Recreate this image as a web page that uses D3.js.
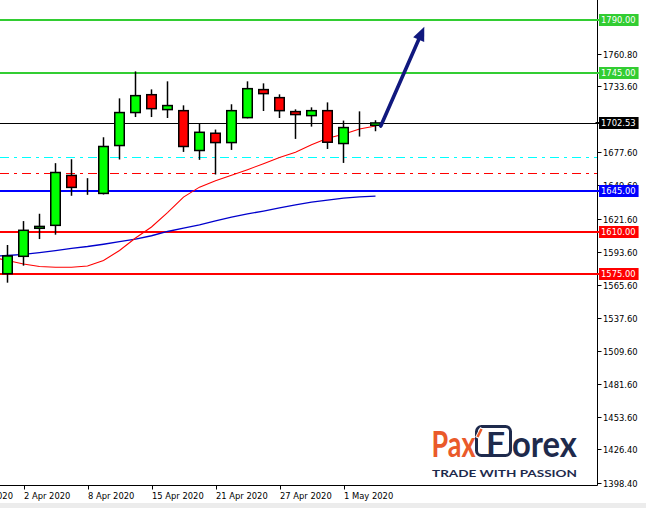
<!DOCTYPE html>
<html><head><meta charset="utf-8">
<script src="https://cdn.jsdelivr.net/npm/d3@7"></script>
<style>
html,body{margin:0;padding:0;background:#fff;overflow:hidden;}
svg{display:block;}
.ax{font-family:"DejaVu Sans Condensed","DejaVu Sans",sans-serif;font-stretch:condensed;font-size:9.3px;}
</style></head><body>
<svg id="c" width="646" height="508"></svg>
<script>
// ---------- data ----------
const dates = ["27 Mar 2020","30 Mar 2020","31 Mar 2020","1 Apr 2020","2 Apr 2020","3 Apr 2020","6 Apr 2020","7 Apr 2020","8 Apr 2020","9 Apr 2020","13 Apr 2020","14 Apr 2020","15 Apr 2020","16 Apr 2020","17 Apr 2020","20 Apr 2020","21 Apr 2020","22 Apr 2020","23 Apr 2020","24 Apr 2020","27 Apr 2020","28 Apr 2020","29 Apr 2020","30 Apr 2020","1 May 2020","4 May 2020","5 May 2020"];
const open  = [null,null,null,1575.0,1589.7,1613.4,1615.9,1658.1,1644.0,1642.9,1683.4,1711.3,1726.4,1713.8,1712.9,1679.2,1693.8,1685.9,1707.0,1730.7,1723.9,1712.1,1708.7,1712.9,1685.1,1699.1,1700.5];
const high  = [null,null,null,1599.3,1619.5,1625.7,1668.5,1671.8,1655.8,1690.4,1723.3,1746.1,1730.9,1737.7,1717.4,1702.2,1696.9,1718.3,1737.7,1736.0,1726.7,1714.0,1715.7,1719.9,1704.5,1712.3,1704.8];
const low   = [null,null,null,1567.4,1581.8,1604.3,1608.0,1640.9,1641.7,1642.0,1671.6,1707.5,1707.5,1706.7,1678.0,1671.3,1658.9,1679.7,1706.4,1712.6,1706.7,1689.0,1699.4,1680.5,1668.7,1691.0,1695.5];
const close = [null,null,null,1590.0,1611.7,1615.0,1660.6,1648.0,1644.0,1682.6,1711.3,1725.6,1714.6,1717.2,1682.6,1694.6,1685.9,1712.9,1731.5,1727.3,1712.9,1709.6,1712.9,1686.2,1698.6,1699.1,1702.5];
const maFast = [null,null,1589.1,1586.2,1583.2,1581.1,1580.4,1580.4,1581.5,1586.2,1594.6,1605.2,1614.5,1626.7,1639.8,1648.2,1653.7,1658.3,1663.0,1668.0,1673.3,1677.8,1684.1,1689.6,1692.9,1697.4,1699.9];
const maSlow = [null,null,1589.6,1590.4,1591.4,1592.9,1594.6,1596.5,1598.0,1599.9,1602.1,1604.3,1607.1,1610.7,1613.6,1616.3,1619.7,1622.9,1625.6,1628.0,1630.7,1633.2,1635.6,1637.2,1638.9,1640.0,1640.6];
const xTickLabels = ["27 Mar 2020","2 Apr 2020","8 Apr 2020","15 Apr 2020","21 Apr 2020","27 Apr 2020","1 May 2020"];
const yTickValues = [1398.40,1426.40,1453.60,1481.60,1509.60,1537.60,1565.60,1593.60,1621.60,1649.60,1677.60,1733.60,1760.80];
const resistanceLevels = [1790.00, 1745.00];
const supportLevels = [1610.00, 1575.00];
const pivotLevel = 1645.00;
const currentPrice = 1702.53;
const cyanLevel = 1673.3;
const redDashLevel = 1659.8;
const arrowFrom = [26.33, 1699.9];
const arrowTo = [29.05, 1783.9];

// ---------- scales ----------
const svg = d3.select("#c");
const plotRight = 597.5, plotBottom = 485.5;
const y = d3.scaleLinear().domain([1398.4, 1790]).range([482.5, 19.5]);
const x = d3.scaleLinear().domain([3, 26]).range([7.5, 375.5]);
const crisp = v => Math.round(v) + 0.5;

svg.append("rect").attr("width",646).attr("height",508).attr("fill","#fff");
svg.append("rect").attr("x",0).attr("y",503).attr("width",646).attr("height",5).attr("fill","#ececec");

const plot = svg.append("g");
// level lines
function hline(v, color, w, dash){
  const yy = w % 2 === 1 ? crisp(y(v)) : Math.round(y(v));
  const l = plot.append("line").attr("x1",0).attr("x2",plotRight).attr("y1",yy).attr("y2",yy)
    .attr("stroke",color).attr("stroke-width",w);
  if (dash) l.attr("stroke-dasharray",dash);
}
hline(cyanLevel, "#00ffff", 1, "9,5,3,5");
hline(redDashLevel, "#ff0000", 1, "9,5,3,5");
resistanceLevels.forEach(v => hline(v, "#32cd32", 2));
supportLevels.forEach(v => hline(v, "#ff0000", 2));
hline(pivotLevel, "#0000ff", 2);
hline(currentPrice, "#000000", 1);

// moving averages
const idx = d3.range(dates.length);
const lineGen = arr => d3.line().defined(i => arr[i] != null).x(i => x(i)).y(i => y(arr[i]))(idx);
plot.append("path").attr("d", lineGen(maSlow)).attr("fill","none").attr("stroke","#0000cd").attr("stroke-width",1.3);
plot.append("path").attr("d", lineGen(maFast)).attr("fill","none").attr("stroke","#ff0000").attr("stroke-width",1.1);

// candles
const candles = idx.filter(i => open[i] != null);
const cg = plot.append("g");
candles.forEach(i => {
  const cx = x(i);
  cg.append("line").attr("x1",cx).attr("x2",cx).attr("y1",y(high[i])).attr("y2",y(low[i]))
    .attr("stroke","#000").attr("stroke-width",1.5);
  const top = y(Math.max(open[i], close[i])), bot = y(Math.min(open[i], close[i]));
  const fill = close[i] > open[i] ? "#00ff00" : (close[i] < open[i] ? "#ff0000" : "#000");
  cg.append("rect").attr("x",cx-4.75).attr("y",top).attr("width",9.5).attr("height",Math.max(0,bot-top))
    .attr("fill",fill).attr("stroke","#000").attr("stroke-width",1.5);
});

// arrow
{
  const x1 = x(arrowFrom[0]), y1 = y(arrowFrom[1]), x2 = x(arrowTo[0]), y2 = y(arrowTo[1]);
  const dx = x2-x1, dy = y2-y1, L = Math.hypot(dx,dy), ux = dx/L, uy = dy/L, nx = -uy, ny = ux;
  const hl = 14, hw = 6;
  const bx = x2-ux*hl, by = y2-uy*hl;
  const col = "#10187e";
  plot.append("line").attr("x1",x1).attr("y1",y1).attr("x2",bx+ux*2).attr("y2",by+uy*2)
    .attr("stroke",col).attr("stroke-width",3.6).attr("stroke-linecap","round");
  plot.append("path").attr("d",`M${x2},${y2}L${bx+nx*hw},${by+ny*hw}L${bx-nx*hw},${by-ny*hw}Z`).attr("fill",col);
}

// axes
const ax = svg.append("g").attr("class","ax");
ax.append("line").attr("x1",plotRight).attr("x2",plotRight).attr("y1",0).attr("y2",plotBottom).attr("stroke","#000");
ax.append("line").attr("x1",0).attr("x2",plotRight).attr("y1",plotBottom).attr("y2",plotBottom).attr("stroke","#000");
yTickValues.forEach(v => {
  const yy = crisp(y(v));
  ax.append("line").attr("x1",plotRight).attr("x2",plotRight+4).attr("y1",yy).attr("y2",yy).attr("stroke","#000");
  ax.append("text").attr("x",603).attr("y",yy).attr("dy","0.36em").attr("fill","#000").text(v.toFixed(2));
});
xTickLabels.forEach(lbl => {
  const xx = crisp(x(dates.indexOf(lbl)));
  ax.append("line").attr("x1",xx).attr("x2",xx).attr("y1",plotBottom).attr("y2",plotBottom+4).attr("stroke","#000");
  ax.append("text").attr("x",xx-0.5).attr("y",499).attr("fill","#000").text(lbl);
});

// price labels
const priceTags = [
  {v: resistanceLevels[0], c: "#32cd32"},
  {v: resistanceLevels[1], c: "#32cd32"},
  {v: currentPrice, c: "#000000"},
  {v: pivotLevel, c: "#0000ff"},
  {v: supportLevels[0], c: "#ff0000"},
  {v: supportLevels[1], c: "#ff0000"}
];
priceTags.forEach(t => {
  const yy = Math.round(y(t.v));
  const g = ax.append("g");
  const r = g.append("rect").attr("x",599).attr("y",yy-6).attr("height",12).attr("fill",t.c);
  const tx = g.append("text").attr("x",601).attr("y",yy).attr("dy","0.36em").attr("fill","#fff").text(t.v.toFixed(2));
  const w = tx.node().getComputedTextLength();
  r.attr("width", w + 5);
  ax.append("line").attr("x1",plotRight-2).attr("x2",599).attr("y1",yy).attr("y2",yy).attr("stroke",t.c).attr("stroke-width",2);
});

// logo
const orange = "#ea5a2a", navy = "#1e2a4c";
const logo = svg.append("g");
const lt = (txt, xx, yy, size, w, col, weight) => logo.append("text").attr("x",xx).attr("y",yy)
  .style("font-family","Lato, 'Open Sans', sans-serif").style("font-weight",weight||700).style("font-size",size+"px")
  .attr("fill",col).attr("textLength",w).attr("lengthAdjust","spacingAndGlyphs").text(txt);
lt("Pax", 431.5, 456.5, 36, 44, orange);
logo.append("rect").attr("x",476.5).attr("y",426.5).attr("width",34).attr("height",29).attr("rx",5)
  .attr("fill","none").attr("stroke",navy).attr("stroke-width",3);
logo.append("line").attr("x1",477).attr("y1",438).attr("x2",482).attr("y2",428).attr("stroke","#fff").attr("stroke-width",4);
logo.append("line").attr("x1",477.5).attr("y1",437).attr("x2",481.5).attr("y2",429).attr("stroke",orange).attr("stroke-width",2.5);
lt("F", 486, 453.5, 31, 19, navy);
lt("orex", 512, 456.5, 36, 65, navy);
lt("TRADE WITH PASSION", 432, 477.3, 9.3, 145, navy);
</script>
</body></html>
